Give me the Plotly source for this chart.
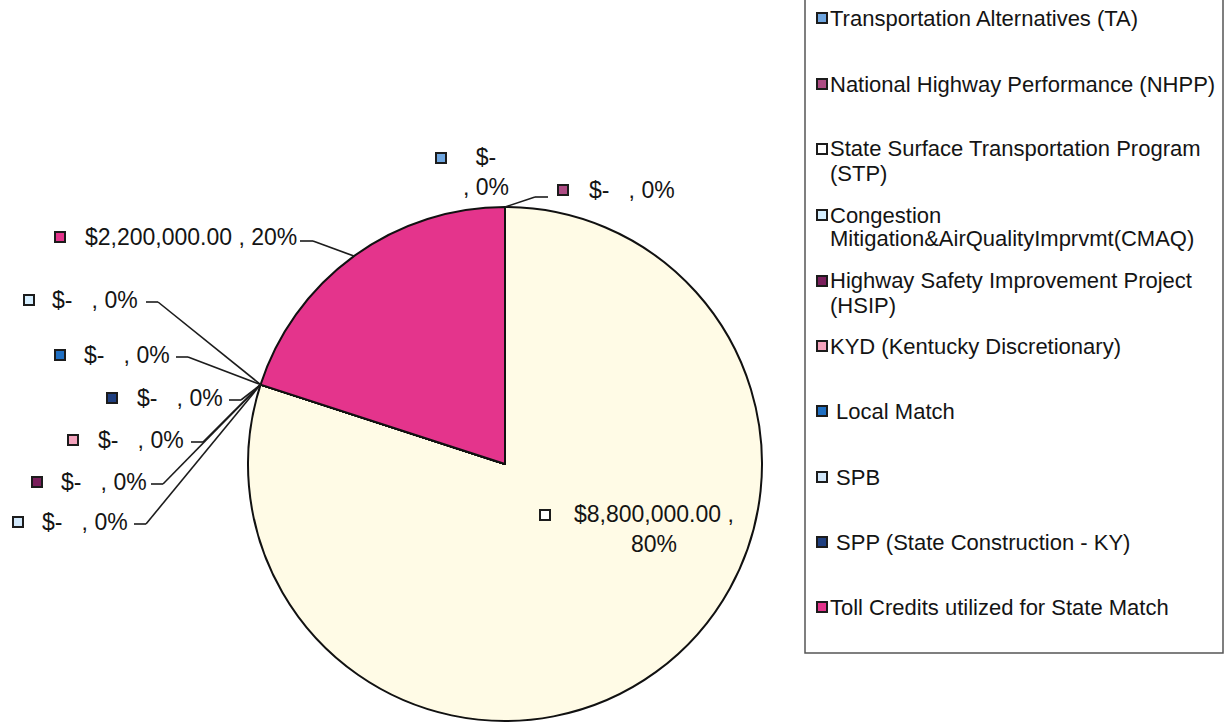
import math
import plotly.graph_objects as go

# Funding sources, amounts and colours
categories = [
    "Transportation Alternatives (TA)",
    "National Highway Performance (NHPP)",
    "State Surface Transportation Program (STP)",
    "Congestion Mitigation&AirQualityImprvmt(CMAQ)",
    "Highway Safety Improvement Project (HSIP)",
    "KYD (Kentucky Discretionary)",
    "Local Match",
    "SPB",
    "SPP (State Construction - KY)",
    "Toll Credits utilized for State Match",
]
amounts = [0, 0, 8800000, 0, 0, 0, 0, 0, 0, 2200000]
colors = ["#6fa6e0", "#ad4c84", "#fffbe6", "#d6efff", "#7a1f5c",
          "#f4a3bd", "#1f6fc2", "#d2e8fb", "#1f3f80", "#e4348c"]

# Legend text as it wraps inside the legend box
legend_text = [
    "Transportation Alternatives (TA)",
    "National Highway Performance (NHPP)",
    "State Surface Transportation Program<br>(STP)",
    "Congestion<br>Mitigation&AirQualityImprvmt(CMAQ)",
    "Highway Safety Improvement Project<br>(HSIP)",
    "KYD (Kentucky Discretionary)",
    " Local Match",
    " SPB",
    " SPP (State Construction - KY)",
    "Toll Credits utilized for State Match",
]

W, H = 1225, 723
FONT = "Liberation Sans, Arial, sans-serif"
FS = 23
LFS = 22
INK = "#141414"

def px(x):
    return x / W

def py(y):
    return 1 - y / H

# Pie geometry (pixels)
cx, cy, R = 505, 464, 257

fig = go.Figure(go.Pie(
    labels=categories,
    values=amounts,
    marker=dict(colors=colors, line=dict(color="#111111", width=2)),
    sort=False,
    direction="clockwise",
    rotation=0,
    textinfo="none",
    hoverinfo="label+value+percent",
    showlegend=False,
    domain=dict(x=[px(cx - R), px(cx + R)], y=[py(cy + R), py(cy - R)]),
))

total = sum(amounts)


def money(v):
    return "$-" if v == 0 else "${:,.2f}".format(v)


def pct(v):
    return "{:.0f}%".format(100 * v / total)


def edge_point(i):
    # point on the rim at the middle angle of slice i (clockwise from 12 o'clock)
    start = sum(amounts[:i]) / total
    mid = start + amounts[i] / total / 2
    a = 2 * math.pi * mid
    return cx + R * math.sin(a), cy - R * math.cos(a)


shapes = []
annotations = []


def square(x, y, fill, size=10):
    shapes.append(dict(type="rect", xref="paper", yref="paper",
                       x0=px(x - size / 2), x1=px(x + size / 2),
                       y0=py(y + size / 2), y1=py(y - size / 2),
                       fillcolor=fill, line=dict(color="#1c1c1c", width=2)))


def text(x, y, s, anchor="left", align="left", size=FS):
    annotations.append(dict(xref="paper", yref="paper", x=px(x), y=py(y),
                            xanchor=anchor, yanchor="middle", text=s,
                            showarrow=False, align=align,
                            font=dict(family=FONT, size=size, color=INK)))


def seg(x0, y0, x1, y1):
    shapes.append(dict(type="line", xref="paper", yref="paper",
                       x0=px(x0), y0=py(y0), x1=px(x1), y1=py(y1),
                       line=dict(color="#1c1c1c", width=1.6)))


NB = "\u00a0"

# Data labels for the slices stacked on the left (marker x, text x, line start x, y)
left_labels = {
    3: (29, 50, 146, 300),
    6: (60, 82, 176, 355),
    8: (112, 135, 229, 398),
    5: (73, 96, 191, 440),
    4: (37, 59, 151, 482),
    7: (18, 40, 134, 522),
}
for i, (mx, tx, lx, y) in left_labels.items():
    square(mx, y, colors[i])
    text(tx, y, money(amounts[i]) + NB * 3 + ", " + pct(amounts[i]))
    ex, ey = edge_point(i)
    seg(lx, y + 2, lx + 12, y + 2)
    seg(lx + 12, y + 2, ex, ey)

# Toll credits label
i = 9
square(60, 237, colors[i])
text(83, 237, money(amounts[i]) + " , " + pct(amounts[i]))
ex, ey = edge_point(i)
seg(300, 241, 313, 241)
seg(313, 241, ex, ey)

# TA label (wrapped, above the pie)
i = 0
square(441, 158, colors[i])
text(486, 172, money(amounts[i]) + "<br>, " + pct(amounts[i]), anchor="center", align="center")

# NHPP label
i = 1
square(563, 190, colors[i])
text(587, 190, money(amounts[i]) + NB * 3 + ", " + pct(amounts[i]))
ex, ey = edge_point(i)
seg(548, 197, 535, 197)
seg(535, 197, ex, ey)

# STP label inside its slice
i = 2
square(545, 515, "#ffffff")
text(654, 529, money(amounts[i]) + " ,<br>" + pct(amounts[i]), anchor="center", align="center")

# Legend box and entries (wrapped lines set 24px apart)
shapes.append(dict(type="rect", xref="paper", yref="paper",
                   x0=px(805), x1=px(1223), y0=py(653), y1=py(-5),
                   fillcolor="rgba(0,0,0,0)", line=dict(color="#555555", width=1.5)))
legend_y = [18, 84, 149, 215, 281, 346, 411, 477, 542, 607]
for i, (lab, y) in enumerate(zip(legend_text, legend_y)):
    square(822, y, colors[i] if i != 2 else "#ffffff", size=10)
    for k, line in enumerate(lab.split("<br>")):
        if line.startswith(" "):
            line = NB + line[1:]
        text(828, y + 24 * k, line, size=LFS)

fig.update_layout(
    width=W, height=H,
    margin=dict(l=0, r=0, t=0, b=0),
    paper_bgcolor="white",
    plot_bgcolor="white",
    shapes=shapes,
    annotations=annotations,
)

fig.write_html("out.html")
